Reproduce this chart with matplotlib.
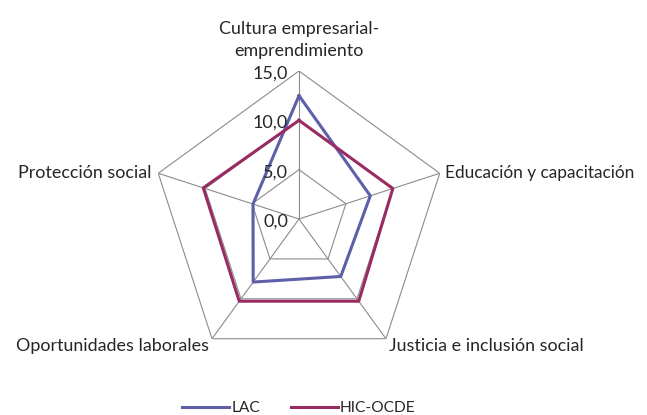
import numpy as np
import matplotlib
matplotlib.use("Agg")
import matplotlib.pyplot as plt

categories = ["Cultura empresarial-\nemprendimiento", "Educación y capacitación",
              "Justicia e inclusión social", "Oportunidades laborales", "Protección social"]
lac = [12.5, 7.6, 7.2, 7.9, 4.9]
hic_ocde = [10.0, 10.0, 10.3, 10.3, 10.2]
series_names = ["LAC", "HIC-OCDE"]
ticks = [0, 5, 10, 15]
tick_labels = ["0,0", "5,0", "10,0", "15,0"]

plt.rcParams['font.family'] = ['Lato', 'DejaVu Sans']
col_lac = "#5D5FA8"
col_hic = "#9A2B62"
grid_col = "#8C8C8C"
txt_col = "#262626"

W, H = 647, 415
fig = plt.figure(figsize=(W / 100, H / 100), dpi=100)
cx, cy, R = 299, 196, 148
ax = fig.add_axes([(cx - R) / W, (cy - R) / H, 2 * R / W, 2 * R / H], projection='polar')
ax.set_theta_offset(np.pi / 2)
ax.set_theta_direction(-1)
ax.set_ylim(0, 15)
ax.grid(False)
ax.spines['polar'].set_visible(False)
ax.set_xticks([])
ax.set_yticks([])
ax.patch.set_alpha(0)

n = len(categories)
ang = np.arange(n) * 2 * np.pi / n
ang_c = np.append(ang, ang[0])

for t in ticks[1:]:
    ax.plot(ang_c, [t] * (n + 1), color=grid_col, lw=0.8, zorder=1)
for a in ang:
    ax.plot([a, a], [0, ticks[-1]], color=grid_col, lw=0.8, zorder=1)

ax.plot(ang_c, lac + lac[:1], color=col_lac, lw=2.2, zorder=3, label=series_names[0])
ax.plot(ang_c, hic_ocde + hic_ocde[:1], color=col_hic, lw=2.2, zorder=3, label=series_names[1])

for t, lab in zip(ticks, tick_labels):
    ax.annotate(lab, xy=(0, t), xytext=(-8, -2), textcoords='offset points',
                ha='right', va='center', fontsize=13, color=txt_col)

fs = 12.9
# category labels
ax.annotate(categories[0], xy=(ang[0], 15), xytext=(0, 9), textcoords='offset points',
            ha='center', va='bottom', fontsize=fs, color=txt_col, linespacing=1.45)
ax.annotate(categories[1], xy=(ang[1], 15), xytext=(4, 0), textcoords='offset points',
            ha='left', va='center', fontsize=12.4, color=txt_col)
ax.annotate(categories[2], xy=(ang[2], 15), xytext=(2, -5), textcoords='offset points',
            ha='left', va='center', fontsize=fs, color=txt_col)
ax.annotate(categories[3], xy=(ang[3], 15), xytext=(-2, -5), textcoords='offset points',
            ha='right', va='center', fontsize=fs, color=txt_col)
ax.annotate(categories[4], xy=(ang[4], 15), xytext=(-5, 0), textcoords='offset points',
            ha='right', va='center', fontsize=fs, color=txt_col)

leg = fig.legend(loc='center', bbox_to_anchor=(0.462, 1 - 408 / H), ncol=2, frameon=False,
                 fontsize=11.2, handlelength=3.0, handletextpad=0.15, columnspacing=2.0,
                 labelcolor=txt_col)

fig.savefig("out.png", dpi=100)
